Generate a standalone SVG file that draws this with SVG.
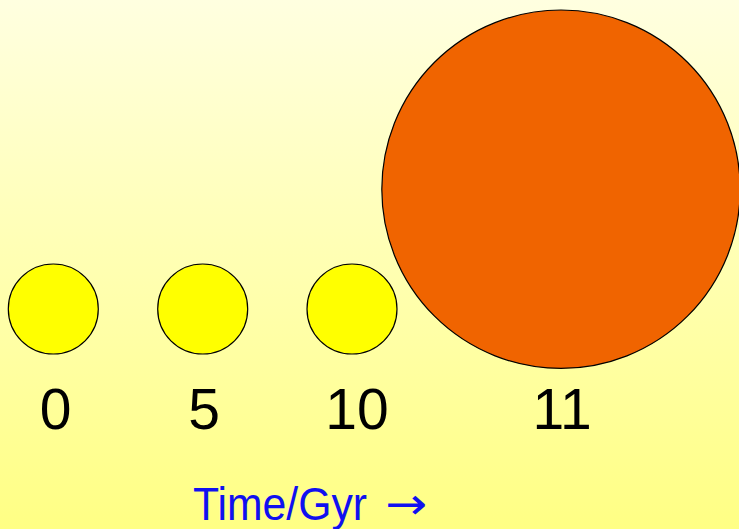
<svg xmlns="http://www.w3.org/2000/svg" width="739" height="529" viewBox="0 0 739 529">
<defs>
<linearGradient id="bg" x1="0" y1="0" x2="0" y2="1">
<stop offset="0" stop-color="#FFFFE0"/>
<stop offset="1" stop-color="#FFFF84"/>
</linearGradient>
<style>
.star{stroke:#000;stroke-width:1.2}
.lbl{font-family:"Liberation Sans",Arial,sans-serif;font-size:57px;fill:#000;text-anchor:middle}
.axis{font-family:"Liberation Sans",Arial,sans-serif;font-size:46px;fill:#1010F0}
.arr{font-family:"DejaVu Sans",sans-serif;font-size:44px;fill:#1010F0}
</style>
</defs>
<rect width="739" height="529" fill="url(#bg)"/>
<g id="star0"><circle class="star" cx="53.3" cy="309" r="45" fill="#FFFF00"/><text class="lbl" x="55.5" y="429">0</text></g>
<g id="star5"><circle class="star" cx="202.7" cy="309" r="45" fill="#FFFF00"/><text class="lbl" x="204" y="429">5</text></g>
<g id="star10"><circle class="star" cx="352" cy="309" r="45" fill="#FFFF00"/><text class="lbl" x="357" y="429">10</text></g>
<g id="star11"><circle class="star" cx="561" cy="189.2" r="179.2" fill="#F06400"/><text class="lbl" x="562" y="429">11</text></g>
<g id="axis"><text class="axis" x="193" y="520" textLength="174" lengthAdjust="spacingAndGlyphs">Time/Gyr</text><text class="arr" x="385" y="519" textLength="42" lengthAdjust="spacingAndGlyphs">→</text></g>
</svg>
